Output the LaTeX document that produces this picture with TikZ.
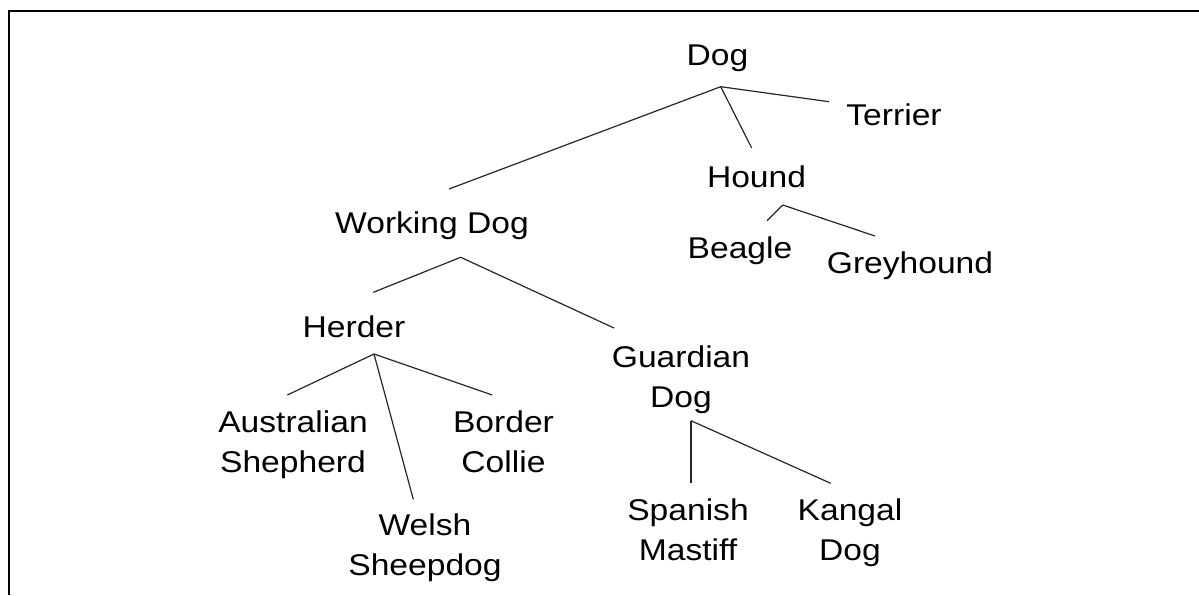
\documentclass[tikz,border=0pt]{standalone}
\usepackage{fontspec}
\setmainfont{Liberation Sans}[FakeStretch=1.12]
\usetikzlibrary{calc}
\begin{document}
\begin{tikzpicture}[x=1pt,y=-1pt,
  lbl/.style={inner sep=0pt, anchor=base, align=center, font=\fontsize{30}{40}\selectfont},
  edge/.style={line width=1.2pt, black!85},
  frame/.style={line width=2.2pt, black}]
\useasboundingbox (0,0) rectangle (1199,595);
\draw[frame] (9,595) -- (9,11) -- (1199,11);

% single-line nodes: base = baseline; multi-line nodes: base = baseline of last line
\node[lbl] (dog) at (717.5,65) {Dog};
\node[lbl] (terrier) at (894,125) {Terrier};
\node[lbl] (hound) at (756.5,187) {Hound};
\node[lbl] (beagle) at (740,258) {Beagle};
\node[lbl] (grey) at (910,273) {Greyhound};
\node[lbl] (work) at (432,233) {Working Dog};
\node[lbl] (herder) at (354,337) {Herder};
\node[lbl] (guard) at (681,407) {Guardian\\Dog};
\node[lbl] (aus) at (293,472) {Australian\\Shepherd};
\node[lbl] (border) at (503.5,472) {Border\\Collie};
\node[lbl] (welsh) at (425,575) {Welsh\\Sheepdog};
\node[lbl] (spanish) at (688,560) {Spanish\\Mastiff};
\node[lbl] (kangal) at (850,560) {Kangal\\Dog};

% Dog
\draw[edge] ($(dog.base)+(3.2,21.7)$) -- ($(work.base)+(17,-44)$);
\draw[edge] ($(dog.base)+(3.2,21.7)$) -- ($(hound.base)+(-4.8,-39)$);
\draw[edge] ($(dog.base)+(3.2,21.7)$) -- ($(terrier.base)+(-65,-23.3)$);
% Hound
\draw[edge] ($(hound.base)+(26.2,18)$) -- ($(beagle.base)+(27,-37.3)$);
\draw[edge] ($(hound.base)+(26.2,18)$) -- ($(grey.base)+(-35,-37)$);
% Working Dog
\draw[edge] ($(work.base)+(28.7,24.3)$) -- ($(herder.base)+(19.3,-44.7)$);
\draw[edge] ($(work.base)+(28.7,24.3)$) -- ($(guard.base)+(-67,-79)$);
% Herder
\draw[edge] ($(herder.base)+(20,17)$) -- ($(aus.base)+(-5.7,-77)$);
\draw[edge] ($(herder.base)+(20,17)$) -- ($(welsh.base)+(-11.7,-75.7)$);
\draw[edge] ($(herder.base)+(20,17)$) -- ($(border.base)+(-11.2,-77)$);
% Guardian Dog
\draw[edge] ($(guard.base)+(10,13.7)$) -- ($(spanish.base)+(3,-76.7)$);
\draw[edge] ($(guard.base)+(10,13.7)$) -- ($(kangal.base)+(-19.3,-76.7)$);
\end{tikzpicture}
\end{document}
